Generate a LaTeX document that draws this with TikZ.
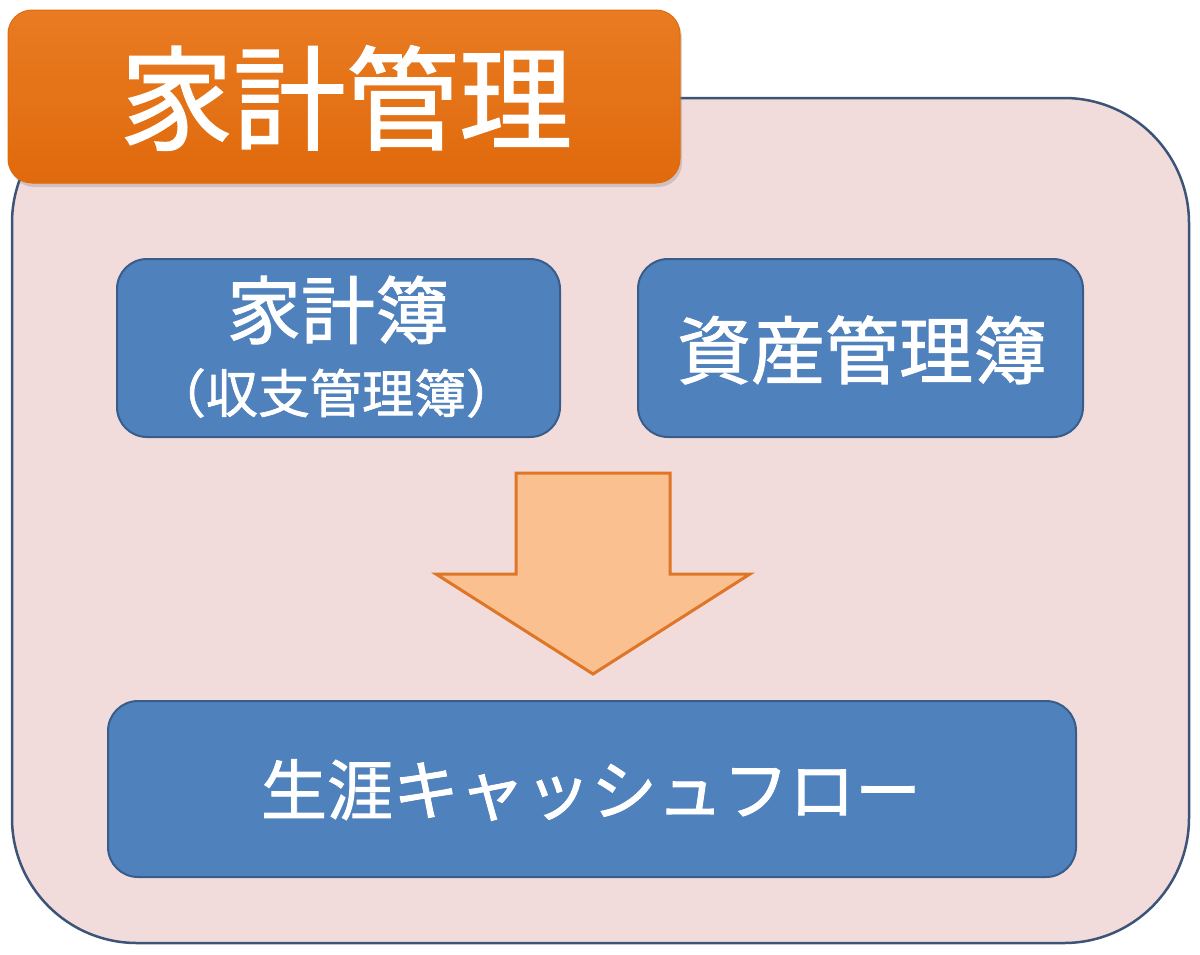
\documentclass[tikz,border=0pt]{standalone}
\usepackage{fontspec}
\setmainfont{Noto Sans CJK JP}[FakeBold=1.3]
\usetikzlibrary{shadows}
\definecolor{pinkfill}{HTML}{F2DCDB}
\definecolor{frameline}{HTML}{3D5479}
\definecolor{bluefill}{HTML}{4F81BD}
\definecolor{blueline}{HTML}{385D8A}
\definecolor{orangetop}{HTML}{E97B22}
\definecolor{orangebot}{HTML}{E06A0C}
\definecolor{arrowfill}{HTML}{FAC090}
\definecolor{arrowline}{HTML}{DF7526}
\tikzset{
  framebox/.style={draw=frameline, line width=2.5pt, fill=pinkfill, rounded corners=125pt, inner sep=0pt},
  titlebox/.style={rounded corners=24pt, top color=orangetop, bottom color=orangebot, draw=orangebot, line width=1pt, inner sep=0pt,
    drop shadow={opacity=0.3, shadow xshift=2pt, shadow yshift=-4pt}},
  bluebox/.style={draw=blueline, line width=2pt, fill=bluefill, rounded corners=30pt, inner sep=0pt},
  wtext/.style={text=white, inner sep=0pt},
  blockarrow/.style={draw=arrowline, line width=3pt, fill=arrowfill, line join=miter}
}
\begin{document}
\begin{tikzpicture}[x=1pt,y=-1pt]
\useasboundingbox (0,0) rectangle (1200,954);
\fill[white] (0,0) rectangle (1200,954);
% outer frame
\node[framebox, minimum width=1177pt, minimum height=845pt] (frame) at (600.5,520.5) {};
% title
\node[titlebox, minimum width=672pt, minimum height=173pt] (title) at (344,96.5) {};
\node[wtext, font=\fontsize{113}{120}\selectfont] (titletext) at (346,98) {家計管理};
% boxes
\node[bluebox, minimum width=443pt, minimum height=178pt] (kakeibo) at (338.5,348) {};
\node[wtext, font=\fontsize{74}{80}\selectfont] (kakeiboA) at (338,310) {家計簿};
\node[wtext, font=\fontsize{52}{56}\selectfont] (kakeiboB) at (336,393) {（収支管理簿）};
\node[bluebox, minimum width=445pt, minimum height=178pt] (shisan) at (860.5,348) {};
\node[wtext, font=\fontsize{74}{80}\selectfont] (shisanT) at (862,350) {資産管理簿};
% arrow
\draw[blockarrow] (516,473) -- (670,473) -- (670,574) -- (750,574) -- (593,674) -- (436,574) -- (516,574) -- cycle;
% bottom box
\node[bluebox, minimum width=968pt, minimum height=176pt] (cashflow) at (592,789) {};
\node[wtext, font=\fontsize{66}{72}\selectfont] (cashflowT) at (591,790) {生涯キャッシュフロー};
\end{tikzpicture}
\end{document}
